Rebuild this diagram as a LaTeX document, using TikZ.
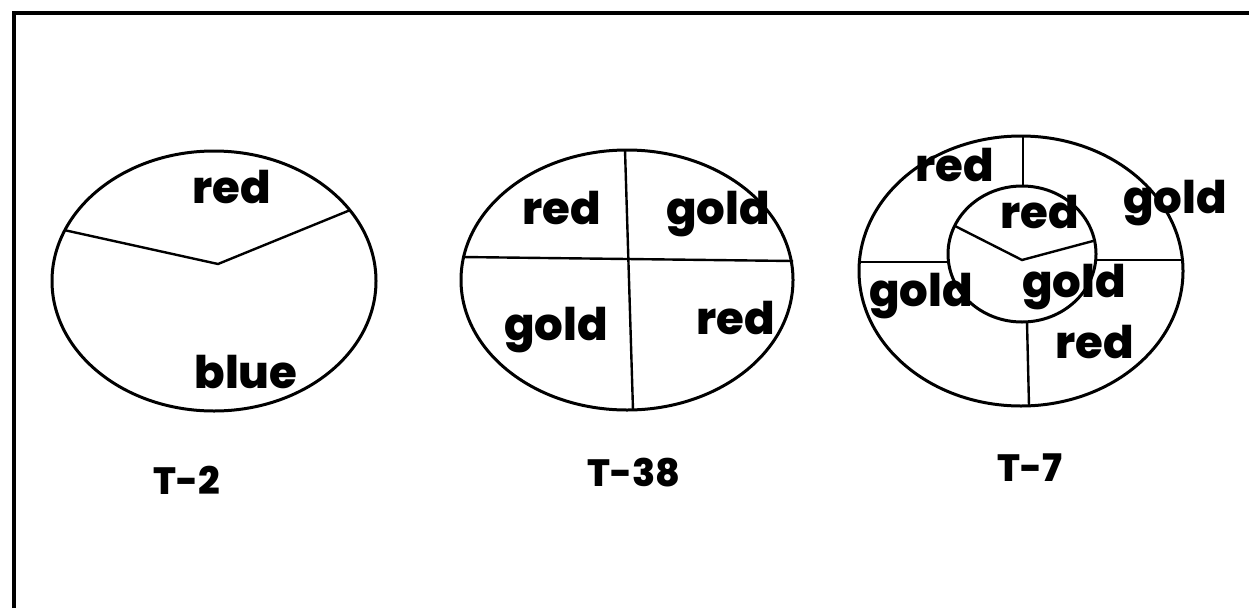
\documentclass[tikz,border=0pt]{standalone}
\usepackage{fontspec}
\setsansfont{Poppins}[BoldFont={Poppins ExtraBold}]
\usepackage{tikz}
\usetikzlibrary{positioning,calc}
\tikzset{
  marco/.style={line width=4pt,black},
  borde/.style={line width=3pt,black},
  corte/.style={line width=2.4pt,black},
  rotulo/.style={font=\sffamily\bfseries\fontsize{45}{45}\selectfont,inner sep=0pt},
  titulo/.style={font=\sffamily\bfseries\fontsize{38}{38}\selectfont,inner sep=0pt},
}

\begin{document}
\begin{tikzpicture}[x=1pt,y=-1pt]
  \useasboundingbox (0,0) rectangle (1249,608);
  \draw[marco] (14,608) -- (14,13) -- (1249,13);
  % T-2
  \coordinate (c2) at (214,281);
  \coordinate (v2) at (218,264);
  \coordinate (a2) at ($(c2)+(157:162pt and 130pt)$);
  \coordinate (b2) at ($(c2)+(33:162pt and 130pt)$);
  \draw[borde] (c2) ellipse [x radius=162pt,y radius=130pt];
  \draw[corte] (a2) -- (v2) -- (b2);
  \node[rotulo] (r2a) at (232,187) {red};
  \node[rotulo] (r2b) at (246,372) {blue};
  \node[titulo] (t2) at (187,480) {T-2};
  % T-38
  \coordinate (c38) at (627,280);
  \draw[borde] (c38) ellipse [x radius=166pt,y radius=130pt];
  \draw[corte] (625,150) -- (633,410);
  \draw[corte] (462,257) -- (793,261);
  \node[rotulo] (r38a) at (562,208) {red};
  \node[rotulo] (r38b) at (718,214) {gold};
  \node[rotulo] (r38c) at (556,330) {gold};
  \node[rotulo] (r38d) at (736,318) {red};
  \node[titulo] (t38) at (634,473) {T-38};
  % T-7
  \coordinate (c7) at (1021,271);
  \coordinate (i7) at (1022,254);
  \coordinate (v7) at (1022,260);
  \draw[borde] (c7) ellipse [x radius=162pt,y radius=135pt];
  \draw[borde] (i7) ellipse [x radius=74pt,y radius=68pt];
  \draw[corte] (1023,136) -- (1023,186);
  \draw[corte] (1027,322) -- (1029,406);
  \draw[corte] (859,262) -- (949,262);
  \draw[corte] (1096,260) -- (1183,260);
  \draw[corte] (955,226) -- (v7) -- (1093,241);
  \node[rotulo] (r7a) at (955,165) {red};
  \node[rotulo] (r7b) at (1040,212) {red};
  \node[rotulo] (r7c) at (1175,203) {gold};
  \node[rotulo] (r7d) at (921,296) {gold};
  \node[rotulo] (r7e) at (1074,287) {gold};
  \node[rotulo] (r7f) at (1095,342) {red};
  \node[titulo] (t7) at (1030,468) {T-7};
\end{tikzpicture}
\end{document}
